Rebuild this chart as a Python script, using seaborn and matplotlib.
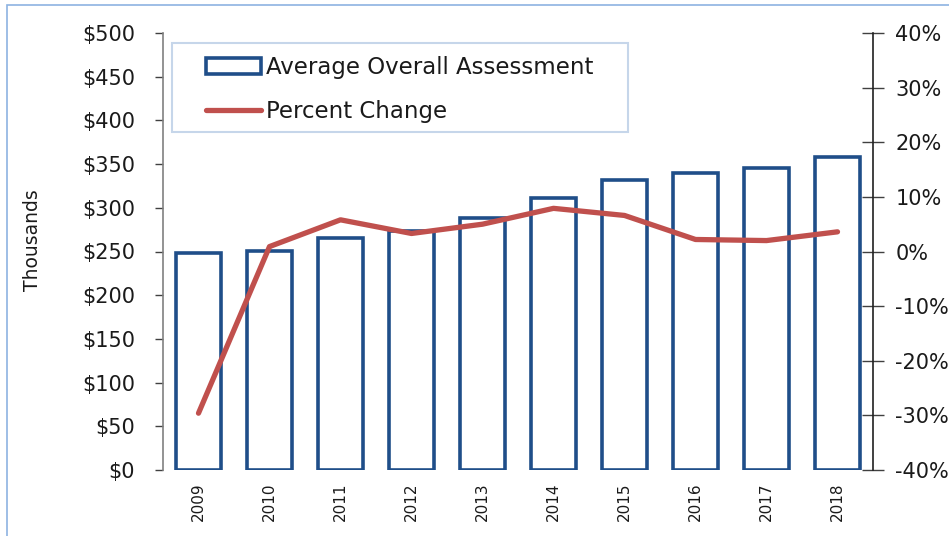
import numpy as np
import pandas as pd
import matplotlib
matplotlib.use("Agg")
import matplotlib.pyplot as plt
import seaborn as sns
from matplotlib.patches import Patch, Rectangle
from matplotlib.lines import Line2D
from matplotlib.ticker import FuncFormatter, MultipleLocator

years = ["2009", "2010", "2011", "2012", "2013", "2014", "2015", "2016", "2017", "2018"]
assessment = [248, 251, 265, 274, 288, 311, 332, 340, 345, 358]  # $ thousands
pct_change = [-29.6, 0.9, 5.8, 3.3, 5.0, 7.9, 6.6, 2.2, 2.0, 3.6]  # percent

BAR_COLOR = "#1f4e89"
LINE_COLOR = "#c0504d"

sns.set_theme(style="white")
plt.rcParams["font.family"] = ["DejaVu Sans"]

W, H = 949, 536
fig = plt.figure(figsize=(W / 100, H / 100), dpi=100)
ax = fig.add_axes([163 / W, 1 - 470 / H, 710 / W, 437 / H])

df = pd.DataFrame({"year": years, "value": assessment})
sns.barplot(data=df, x="year", y="value", ax=ax, fill=False, color=BAR_COLOR,
            linewidth=2.6, width=0.63)
for p in ax.patches:
    p.set_edgecolor(BAR_COLOR)
    p.set_linewidth(2.6)

ax.set_xlim(-0.5, 9.5)
ax.set_ylim(0, 500)
ax.yaxis.set_major_locator(MultipleLocator(50))
ax.yaxis.set_major_formatter(FuncFormatter(lambda v, _: f"${v:.0f}"))
ax.set_xlabel("")
ax.set_ylabel("")
for s in ["top", "right", "bottom"]:
    ax.spines[s].set_visible(False)
ax.spines["left"].set_color("#808080")
ax.spines["left"].set_linewidth(1.2)
ax.tick_params(axis="y", which="major", direction="out", length=6, width=1.0,
               color="#404040", labelsize=15, pad=14, left=True, labelcolor="#1a1a1a")
ax.tick_params(axis="x", length=0, labelsize=11, pad=9, labelcolor="#1a1a1a")
plt.setp(ax.get_xticklabels(), rotation=90)

ax2 = ax.twinx()
sns.lineplot(x=np.arange(len(years)), y=pct_change, ax=ax2, color=LINE_COLOR,
             linewidth=3.8, solid_capstyle="round", solid_joinstyle="round")
ax2.set_ylim(-40, 40)
ax2.yaxis.set_major_locator(MultipleLocator(10))
ax2.yaxis.set_major_formatter(FuncFormatter(lambda v, _: f"{v:.0f}%"))
for s in ["top", "left", "bottom"]:
    ax2.spines[s].set_visible(False)
ax2.spines["right"].set_color("#202020")
ax2.spines["right"].set_linewidth(1.2)
ax2.tick_params(axis="y", direction="inout", length=16, width=1.0, color="#404040",
                labelsize=15, pad=8, right=True, labelcolor="#1a1a1a")
ax.set_xlim(-0.5, 9.5)

fig.text(33 / W, 1 - 240 / H, "Thousands", rotation=90, ha="center", va="center",
         fontsize=13.5, color="#1a1a1a")

# legend box
fig.patches.append(Rectangle((172 / W, 1 - 132 / H), (628 - 172) / W, (132 - 43) / H,
                             transform=fig.transFigure, fill=False,
                             edgecolor="#c6d6ea", linewidth=1.5, zorder=5))
handles = [Patch(facecolor="none", edgecolor=BAR_COLOR, linewidth=2.6),
           Line2D([0], [0], color=LINE_COLOR, linewidth=3.8)]
leg = fig.legend(handles, ["Average Overall Assessment", "Percent Change"],
                 loc="upper left", bbox_to_anchor=(206 / W, 1 - 56 / H),
                 bbox_transform=fig.transFigure, borderaxespad=0, borderpad=0,
                 fontsize=16.5, frameon=False, handlelength=2.4, handleheight=0.75,
                 handletextpad=0.2, labelspacing=0.92)
for t in leg.get_texts():
    t.set_color("#1a1a1a")

fig.patches.append(Rectangle((7 / W, -0.1), 1.2, (1 - 5 / H) + 0.1,
                             transform=fig.transFigure, fill=False,
                             edgecolor="#8db3e2", linewidth=1.2))

fig.savefig("out.png", dpi=100)
